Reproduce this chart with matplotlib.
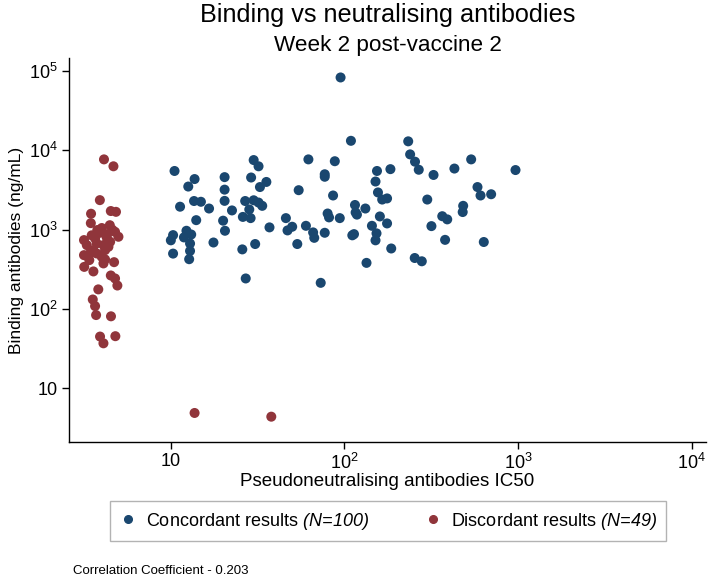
import matplotlib
matplotlib.use("Agg")
import matplotlib.pyplot as plt
from matplotlib.ticker import FixedLocator, FixedFormatter, NullLocator
from matplotlib.lines import Line2D

plt.rcParams['font.family'] = ['Liberation Sans', 'DejaVu Sans']
plt.rcParams['mathtext.fontset'] = 'custom'
plt.rcParams['mathtext.rm'] = 'Liberation Sans'
plt.rcParams['mathtext.it'] = 'Liberation Sans:italic'
plt.rcParams['mathtext.sf'] = 'Liberation Sans:italic'

# Concordant results (pseudoneutralising IC50, binding ng/mL)
conc_x = [109, 30, 32, 62, 88, 10.5, 13.7, 20.4, 29, 35.5, 77, 77, 12.6, 20.4, 32.6,
          54.5, 86, 13.6, 14.9, 20.4, 11.3, 16.6, 26.8, 30, 32, 33.6, 28.3, 22.5, 14,
          20, 26, 28.8, 46, 80, 81.5, 94, 115, 116, 118, 37, 50, 47, 60, 66, 67, 77,
          111, 113.5, 10.3, 10.0, 12.3, 11.9, 13.1, 12.9, 12.9, 12.75, 10.3, 17.6,
          20.5, 25.8, 30.6, 53.5, 27, 73,
          95, 233, 239, 255, 268, 154, 184, 151, 326, 430, 537, 967, 584, 608, 700,
          156, 165, 176, 300, 483, 480, 132, 160, 176, 144, 153, 151, 186, 134, 254,
          279, 317, 366, 391, 380, 635]
conc_y = [13200, 7550, 6300, 7700, 7300, 5500, 4350, 4600, 4550, 4000, 5000, 4650,
          3500, 3200, 3450, 3150, 2700, 2300, 2250, 2310, 1950, 1850, 2300, 2350, 2200,
          2000, 1800, 1750, 1320, 1300, 1450, 1400, 1400, 1600, 1430, 1400, 2050, 1650,
          1550, 1070, 1090, 980, 1120, 925, 790, 915, 850, 880, 855, 735, 970, 800, 870,
          670, 540, 425, 500, 690, 970, 565, 660, 660, 243, 214,
          83000, 13000, 8900, 7200, 5700, 5500, 5800, 4050, 4900, 5900, 7700, 5650,
          3450, 2700, 2800, 2950, 2400, 2480, 2400, 2000, 1670, 1850, 1470, 1200, 1120,
          900, 735, 580, 382, 440, 400, 1110, 1480, 1350, 745, 700]

# Discordant results
disc_x = [4.12, 4.67, 3.90, 4.51, 4.83, 3.47, 3.46, 4.45, 3.77, 3.91, 4.77, 4.99, 3.16,
          3.66, 4.27, 4.47, 3.28, 3.74, 4.09, 4.37, 3.58, 4.18, 3.16, 3.42, 3.74, 4.00,
          3.39, 4.18, 4.71, 3.17, 3.58, 4.09, 4.51, 4.77, 4.92, 3.82, 3.55, 3.66, 3.71,
          4.52, 3.91, 4.09, 4.79, 13.7, 37.9, 4.0, 4.3, 3.5, 4.6]
disc_y = [7700, 6300, 2360, 1720, 1680, 1590, 1210, 1140, 990, 915, 940, 815, 740,
          777, 800, 704, 640, 672, 640, 609, 553, 553, 478, 502, 502, 455, 414, 422,
          390, 340, 298, 376, 265, 243, 198, 177, 132, 109, 84, 81, 45, 37, 45.5,
          4.9, 4.4, 1050, 880, 850, 1000]

xticks = [10, 100, 1000, 10000]
xticklabels = ['10', r'$10^2$', r'$10^3$', r'$10^4$']
yticks = [10, 100, 1000, 10000, 100000]
yticklabels = ['10', r'$10^2$', r'$10^3$', r'$10^4$', r'$10^5$']

navy = '#1a476f'
maroon = '#90353b'

fig = plt.figure(figsize=(7.08, 5.78), dpi=100)
ax = fig.add_axes([69/708, 1-442/578, (706-69)/708, (442-58)/578])
ax.scatter(conc_x, conc_y, s=52, color=navy, edgecolors='none', zorder=3)
ax.scatter(disc_x, disc_y, s=52, color=maroon, edgecolors='none', zorder=3)
ax.set_xscale('log')
ax.set_yscale('log')
ax.set_xlim(2.59, 12100)
ax.set_ylim(2.11, 146000)
ax.xaxis.set_major_locator(FixedLocator(xticks))
ax.xaxis.set_major_formatter(FixedFormatter(xticklabels))
ax.yaxis.set_major_locator(FixedLocator(yticks))
ax.yaxis.set_major_formatter(FixedFormatter(yticklabels))
ax.xaxis.set_minor_locator(NullLocator())
ax.yaxis.set_minor_locator(NullLocator())
for s in ['top', 'right']:
    ax.spines[s].set_visible(False)
for s in ['left', 'bottom']:
    ax.spines[s].set_linewidth(1.0)
ax.tick_params(axis='both', direction='out', length=5, width=1.0, labelsize=13,
               pad=3, colors='black')
ax.set_xlabel('Pseudoneutralising antibodies IC50', fontsize=13.5, labelpad=0)
ax.set_ylabel('Binding antibodies (ng/mL)', fontsize=12.5, labelpad=4)

fig.text(388/708, 1-15/578, 'Binding vs neutralising antibodies', ha='center', va='center',
         fontsize=18.2)
fig.text(388/708, 1-45/578, 'Week 2 post-vaccine 2', ha='center', va='center',
         fontsize=16.2)
fig.text(73/708, 1-571/578, 'Correlation Coefficient - 0.203', ha='left', va='center',
         fontsize=9.5)

handles = [Line2D([], [], marker='o', linestyle='none', color=navy, markersize=5.5),
           Line2D([], [], marker='o', linestyle='none', color=maroon, markersize=5.5)]
labels = [r'Concordant results $\mathsf{(N\!=\!100)}$',
          r'Discordant results $\mathsf{(N\!=\!49)}$']
leg = fig.legend(handles, labels, loc='center', bbox_to_anchor=(388/708, 1-521/578),
                 ncol=2, fontsize=13, frameon=True, fancybox=False, edgecolor='#a0a0a0',
                 handletextpad=0.5, columnspacing=3.0, borderpad=0.5, handlelength=1.0)
leg.get_frame().set_linewidth(1.0)

fig.savefig('out.png', dpi=100)
